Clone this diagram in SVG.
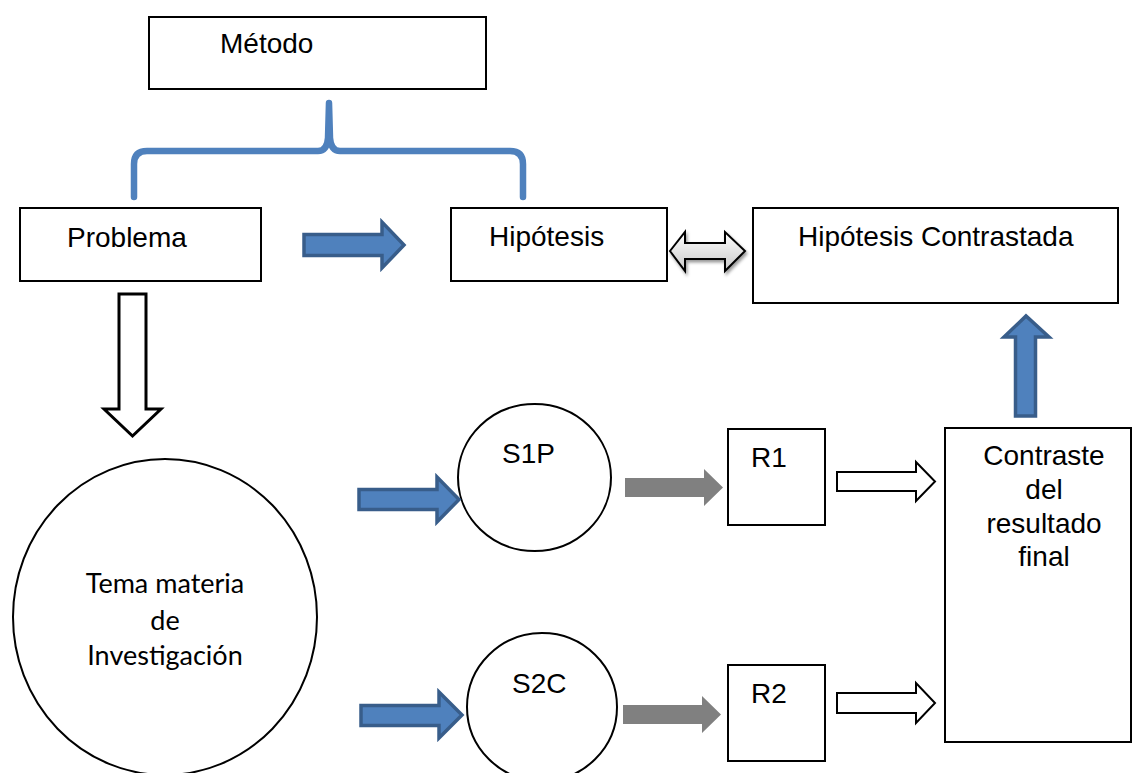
<svg xmlns="http://www.w3.org/2000/svg" width="1132" height="773" viewBox="0 0 1132 773">
<defs>
<linearGradient id="gg" x1="0" y1="0" x2="0" y2="1">
<stop offset="0" stop-color="#ffffff"/>
<stop offset="1" stop-color="#c8c8c8"/>
</linearGradient>
<filter id="sh" x="-20%" y="-30%" width="150%" height="170%">
<feDropShadow dx="1.5" dy="2.5" stdDeviation="1.5" flood-color="#000" flood-opacity="0.4"/>
</filter>
<style>
.box{fill:#fff;stroke:#000;stroke-width:2}
.t{font-family:"Liberation Sans",Arial,sans-serif;font-size:28px;fill:#000}
.c{font-family:Lato,"Open Sans",sans-serif;font-size:27px;fill:#000;text-anchor:middle}
.blue{fill:#4f81bd;stroke:#385d8a;stroke-width:3.5;stroke-linejoin:miter}
.gray{fill:#808080}
.hollow{fill:#fff;stroke:#000;stroke-width:2}
</style>
</defs>
<rect width="1132" height="773" fill="#fff"/>

<g id="metodo"><rect class="box" x="149" y="17" width="337" height="72"/><text class="t" x="220" y="53">Método</text></g>
<g id="problema"><rect class="box" x="20" y="208" width="241" height="73"/><text class="t" x="67" y="247">Problema</text></g>
<g id="hipotesis"><rect class="box" x="451" y="208" width="216" height="73"/><text class="t" x="489" y="246">Hipótesis</text></g>
<g id="hipotesis-contrastada"><rect class="box" x="753" y="208" width="365" height="95"/><text class="t" x="798" y="246">Hipótesis Contrastada</text></g>
<g id="tema"><ellipse class="box" cx="165" cy="617" rx="152" ry="158"/>
<text class="c" x="165" y="593">Tema materia</text><text class="c" x="165" y="630">de</text><text class="c" x="165" y="665">Investigación</text></g>
<g id="s1p"><ellipse class="box" cx="534.5" cy="477.5" rx="76.5" ry="73.5"/><text class="t" x="502" y="463">S1P</text></g>
<g id="s2c"><ellipse class="box" cx="542" cy="707" rx="75" ry="74"/><text class="t" x="512" y="693">S2C</text></g>
<g id="r1"><rect class="box" x="728" y="429" width="97" height="96"/><text class="t" x="751" y="467">R1</text></g>
<g id="r2"><rect class="box" x="728" y="665" width="97" height="96"/><text class="t" x="751" y="703">R2</text></g>
<g id="contraste"><rect class="box" x="945" y="428" width="186" height="314"/>
<text class="t" text-anchor="middle" x="1044" y="465">Contraste</text><text class="t" text-anchor="middle" x="1044" y="499">del</text><text class="t" text-anchor="middle" x="1044" y="533">resultado</text><text class="t" text-anchor="middle" x="1044" y="566">final</text></g>

<g id="connectors">
<path d="M134,197 L134,164 Q134,151 147,151 L318,151 Q327,151 328,138 L329,103 L330,138 Q331,151 340,151 L510,151 Q523,151 523,164 L523,197" fill="none" stroke="#4f81bd" stroke-width="6.5" stroke-linecap="round" stroke-linejoin="round"/>
<path class="blue" d="M304,234.5 L382,234.5 L382,222 L404,245 L382,268 L382,255.5 L304,255.5 Z"/>
<path class="blue" d="M359,489.5 L437,489.5 L437,477 L459,499.5 L437,522 L437,509.5 L359,509.5 Z"/>
<path class="blue" d="M361,705.5 L439,705.5 L439,692 L462,715 L439,738 L439,725.5 L361,725.5 Z"/>
<path class="blue" d="M1015.5,416 L1015.5,337 L1004,337 L1026,316 L1049,337 L1035.5,337 L1035.5,416 Z"/>
<path d="M670,251 L685,232 L685,243 L725,243 L725,232 L745,251 L725,271 L725,259 L685,259 L685,271 Z" fill="url(#gg)" stroke="#000" stroke-width="2" filter="url(#sh)"/>
<path class="gray" d="M625,478 L704,478 L704,469 L723,487.5 L704,506 L704,497 L625,497 Z"/>
<path class="gray" d="M623,705 L702,705 L702,696 L721,714.5 L702,733 L702,724 L623,724 Z"/>
<path class="hollow" d="M837,472 L916,472 L916,462 L935,481.5 L916,501 L916,491 L837,491 Z"/>
<path class="hollow" d="M837,693 L916,693 L916,683 L935,703 L916,723 L916,713 L837,713 Z"/>
<path d="M119,294 L146,294 L146,409 L161,409 L132.5,436 L104,409 L119,409 Z" fill="#fff" stroke="#000" stroke-width="3"/>
</g>
</svg>
